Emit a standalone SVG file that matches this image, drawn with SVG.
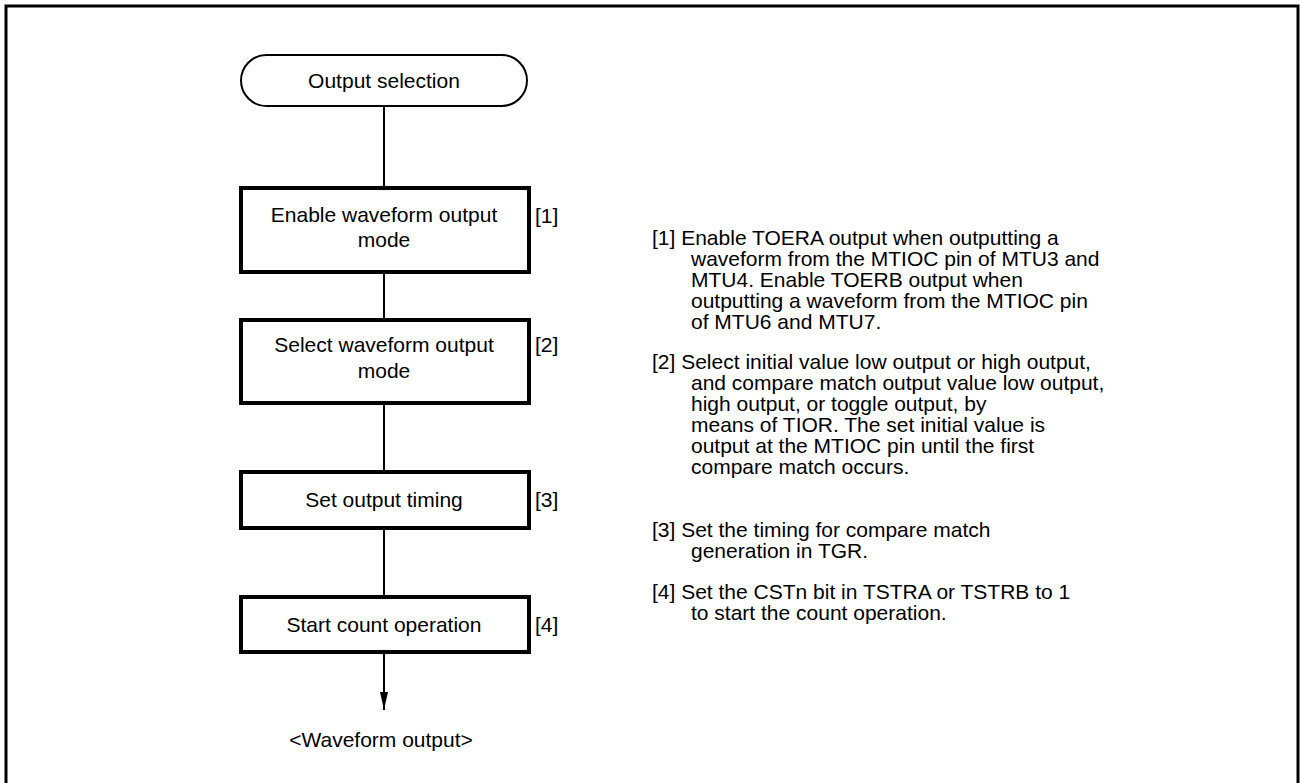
<svg xmlns="http://www.w3.org/2000/svg" width="1301" height="783" viewBox="0 0 1301 783">
<style>
text{font-family:"Liberation Sans",Arial,sans-serif;font-size:21px;fill:#000}
.c{text-anchor:middle}
.box{fill:#fff;stroke:#000;stroke-width:4}
.term{fill:#fff;stroke:#000;stroke-width:2}
.ln{stroke:#000;stroke-width:2;fill:none}
</style>
<defs>
<marker id="ah" viewBox="0 0 18 8" refX="18" refY="4" markerWidth="18" markerHeight="8" markerUnits="userSpaceOnUse" orient="auto"><path d="M0,0 L18,4 L0,8 Z" fill="#000"/></marker>
</defs>
<rect x="6" y="6" width="1292" height="800" fill="none" stroke="#000" stroke-width="3"/>
<g id="connectors">
<line class="ln" x1="384" y1="106" x2="384" y2="188"/>
<line class="ln" x1="384" y1="272" x2="384" y2="320"/>
<line class="ln" x1="384" y1="403" x2="384" y2="472"/>
<line class="ln" x1="384" y1="528" x2="384" y2="597"/>
<line class="ln" x1="384" y1="652" x2="384" y2="710" marker-end="url(#ah)"/>
</g>
<g id="start">
<rect class="term" x="241" y="55" width="286" height="51" rx="25.5"/>
<text class="c" x="384" y="88">Output selection</text>
</g>
<g id="step1">
<rect class="box" x="241" y="188" width="288" height="84"/>
<text class="c" x="384" y="222">Enable waveform output</text>
<text class="c" x="384" y="247">mode</text>
<text x="535" y="223">[1]</text>
</g>
<g id="step2">
<rect class="box" x="241" y="320" width="288" height="83"/>
<text class="c" x="384" y="352">Select waveform output</text>
<text class="c" x="384" y="378">mode</text>
<text x="535" y="352">[2]</text>
</g>
<g id="step3">
<rect class="box" x="241" y="472" width="288" height="56"/>
<text class="c" x="384" y="507">Set output timing</text>
<text x="535" y="507">[3]</text>
</g>
<g id="step4">
<rect class="box" x="241" y="597" width="288" height="55"/>
<text class="c" x="384" y="632">Start count operation</text>
<text x="535" y="632">[4]</text>
</g>
<g id="end">
<text class="c" x="381" y="747">&lt;Waveform output&gt;</text>
</g>
<g id="notes">
<text x="652" y="245">[1] Enable TOERA output when outputting a</text>
<text x="691" y="266">waveform from the MTIOC pin of MTU3 and</text>
<text x="691" y="287">MTU4. Enable TOERB output when</text>
<text x="691" y="308">outputting a waveform from the MTIOC pin</text>
<text x="691" y="329">of MTU6 and MTU7.</text>
<text x="652" y="369">[2] Select initial value low output or high output,</text>
<text x="691" y="390">and compare match output value low output,</text>
<text x="691" y="411">high output, or toggle output, by</text>
<text x="691" y="432">means of TIOR. The set initial value is</text>
<text x="691" y="453">output at the MTIOC pin until the first</text>
<text x="691" y="474">compare match occurs.</text>
<text x="652" y="537">[3] Set the timing for compare match</text>
<text x="691" y="558">generation in TGR.</text>
<text x="652" y="599">[4] Set the CSTn bit in TSTRA or TSTRB to 1</text>
<text x="691" y="620">to start the count operation.</text>
</g>
</svg>
